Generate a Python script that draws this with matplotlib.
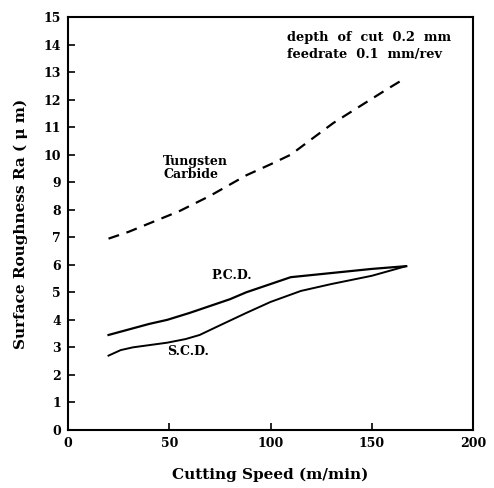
import matplotlib
matplotlib.use("Agg")
import matplotlib.pyplot as plt

# Data
tc_x = [20, 30, 40, 55, 70, 88, 100, 110, 120, 131, 145, 158, 167]
tc_y = [6.95, 7.2, 7.5, 7.95, 8.5, 9.25, 9.65, 10.0, 10.55, 11.15, 11.8, 12.4, 12.8]

pcd_x = [20, 30, 40, 49, 60, 70, 80, 88, 100, 110, 130, 150, 167]
pcd_y = [3.45, 3.65, 3.85, 4.0, 4.25, 4.5, 4.75, 5.0, 5.3, 5.55, 5.7, 5.85, 5.95]

scd_x = [20, 26, 32, 40, 49, 58, 65, 75, 88, 100, 115, 130, 150, 167]
scd_y = [2.7, 2.9, 3.0, 3.08, 3.17, 3.3, 3.45, 3.8, 4.25, 4.65, 5.05, 5.3, 5.6, 5.95]

xticks = [0, 50, 100, 150, 200]
yticks = list(range(0, 16))

plt.rcParams['font.family'] = ['DejaVu Serif']
plt.rcParams['font.weight'] = 'bold'

fig = plt.figure(figsize=(4.94, 4.88), dpi=100)
ax = fig.add_axes([0.1377, 0.119, 0.8198, 0.846])

ax.plot(tc_x, tc_y, color='black', lw=1.6, linestyle=(0, (5, 3.5)))
ax.plot(pcd_x, pcd_y, color='black', lw=1.6)
ax.plot(scd_x, scd_y, color='black', lw=1.4)

ax.set_xlim(0, 200)
ax.set_ylim(0, 15)
ax.set_xticks(xticks)
ax.set_yticks(yticks)
ax.tick_params(direction='in', length=5, width=1.2, labelsize=9, pad=5)
for lab in ax.get_xticklabels() + ax.get_yticklabels():
    lab.set_fontweight('bold')
for s in ax.spines.values():
    s.set_linewidth(1.5)

ax.set_xlabel('Cutting Speed (m/min)', fontsize=11, fontweight='bold', labelpad=13)
ax.set_ylabel('Surface Roughness Ra ( μ m)', fontsize=11, fontweight='bold', labelpad=11)

ax.text(47, 9.5, 'Tungsten\nCarbide', fontsize=9, fontweight='bold', va='center', ha='left', linespacing=1.0)
ax.text(71, 5.6, 'P.C.D.', fontsize=9, fontweight='bold', va='center', ha='left')
ax.text(49, 2.85, 'S.C.D.', fontsize=9, fontweight='bold', va='center', ha='left')
ax.text(189, 13.95, 'depth  of  cut  0.2  mm\nfeedrate  0.1  mm/rev', fontsize=9.3, fontweight='bold',
        va='center', ha='right', multialignment='left', linespacing=1.35)

fig.savefig('out.png', dpi=100)
